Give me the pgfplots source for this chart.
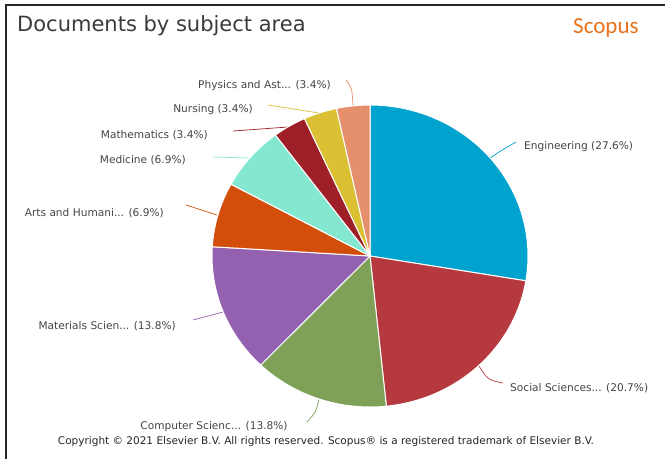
\documentclass[border=0pt]{standalone}
\usepackage{pgfplots}
\pgfplotsset{compat=1.18}
\usepackage{pgfplotstable}
\usepackage{fontspec}
\setmainfont{DejaVu Sans}
\newfontfamily\scopusfont{Carlito}
\definecolor{c0}{HTML}{00A2CE}
\definecolor{c1}{HTML}{B5393E}
\definecolor{c2}{HTML}{7EA157}
\definecolor{c3}{HTML}{9460B0}
\definecolor{c4}{HTML}{D44E0B}
\definecolor{c5}{HTML}{84E8D0}
\definecolor{c6}{HTML}{9E1F27}
\definecolor{c7}{HTML}{DAC032}
\definecolor{c8}{HTML}{E58F6D}
\definecolor{lbl}{HTML}{444444}
\definecolor{ttl}{HTML}{3A3A3A}
\definecolor{scop}{HTML}{E9711C}

% subject share in percent; idx = colour number; cx, cy = pie centre (pixel frame of the picture)
\pgfplotstableread{
subject        pct   idx  cx   cy
Engineering    27.6  0    370  256
SocialSci      20.7  1    370  256
ComputerSci    13.8  2    370  256
MaterialsSci   13.8  3    370  256
ArtsHum        6.9   4    370  256
Medicine       6.9   5    370  256
Mathematics    3.4   6    370  256
Nursing        3.4   7    370  256
Physics        3.4   8    370  256
}\pie
\pgfplotstablecreatecol[expr accum={\pgfmathaccuma + \thisrow{pct}}{0}]{cum}{\pie}

\begin{document}
\begin{tikzpicture}
\begin{axis}[
  x=1pt, y=1pt,
  xmin=0, xmax=669, ymin=0, ymax=459,
  y dir=reverse,
  hide axis, clip=false,
  anchor=south west, at={(0,0)},
]
\addplot[scatter, only marks, mark=text, text mark={},
  point meta=\thisrow{pct},
  visualization depends on={90-3.6036*(\thisrow{cum}-\thisrow{pct}) \as \angA},
  visualization depends on={90-3.6036*\thisrow{cum} \as \angB},
  visualization depends on={\thisrow{idx} \as \idxval},
  scatter/@pre marker code/.code={%
    \pgfmathtruncatemacro\ii{\idxval}%
    \fill[fill=c\ii, draw=white, line width=1pt, line join=round]
      (0pt,0pt) -- (\angA:158pt and 151pt)
      arc[start angle=\angA, end angle=\angB, x radius=158pt, y radius=151pt] -- cycle;
  },
  scatter/@post marker code/.code={},
] table[x=cx, y=cy] {\pie};

% frame
\draw[line width=2pt, black!85] (5,5) -- (665,5);
\draw[line width=2.5pt, black!85] (6,4) -- (6,459);

% title
\node[anchor=base west, inner sep=0pt, text=ttl, font=\fontsize{21}{25}\selectfont] at (17,31) {Documents by subject area};
\node[anchor=base west, inner sep=0pt, text=scop, font=\scopusfont\fontsize{23}{26}\selectfont] at (573,33) {Scopus};

% leader lines
\begin{scope}[line width=0.7pt]
\draw[c0] (490,158) .. controls (502,150) .. (516,142);
\draw[c1] (479,366) .. controls (488,380) .. (503,383);
\draw[c2] (319,399) .. controls (316,412) .. (307,422);
\draw[c3] (223,312) -- (193,320);
\draw[c4] (217,215) -- (186,205);
\draw[c5] (249,158) -- (213,157);
\draw[c6] (288,127) -- (233,131);
\draw[c7] (319,113) -- (268,105);
\draw[c8] (353,106) .. controls (352,88) .. (346,80);
\end{scope}

% labels
\begin{scope}[every node/.style={inner sep=0pt, text=lbl, font=\fontsize{10.6}{12}\selectfont}]
\node[anchor=west] at (524,147) {Engineering (27.6\%)};
\node[anchor=west] at (510,388) {Social Sciences... (20.7\%)};
\node[anchor=center] at (214,427) {Computer Scienc... (13.8\%)};
\node[anchor=east] at (176,326) {Materials Scien... (13.8\%)};
\node[anchor=east] at (164,213) {Arts and Humani... (6.9\%)};
\node[anchor=east] at (186,160) {Medicine (6.9\%)};
\node[anchor=east] at (208,135) {Mathematics (3.4\%)};
\node[anchor=east] at (253,110) {Nursing (3.4\%)};
\node[anchor=east] at (331,86) {Physics and Ast... (3.4\%)};
\end{scope}

\node[inner sep=0pt, text=black!85, font=\fontsize{10.5}{12}\selectfont] at (326,442) {Copyright © 2021 Elsevier B.V. All rights reserved. Scopus® is a registered trademark of Elsevier B.V.};
\end{axis}
\pgfresetboundingbox
\path[use as bounding box] (0,0) rectangle (669pt,459pt);
\end{tikzpicture}
\end{document}
